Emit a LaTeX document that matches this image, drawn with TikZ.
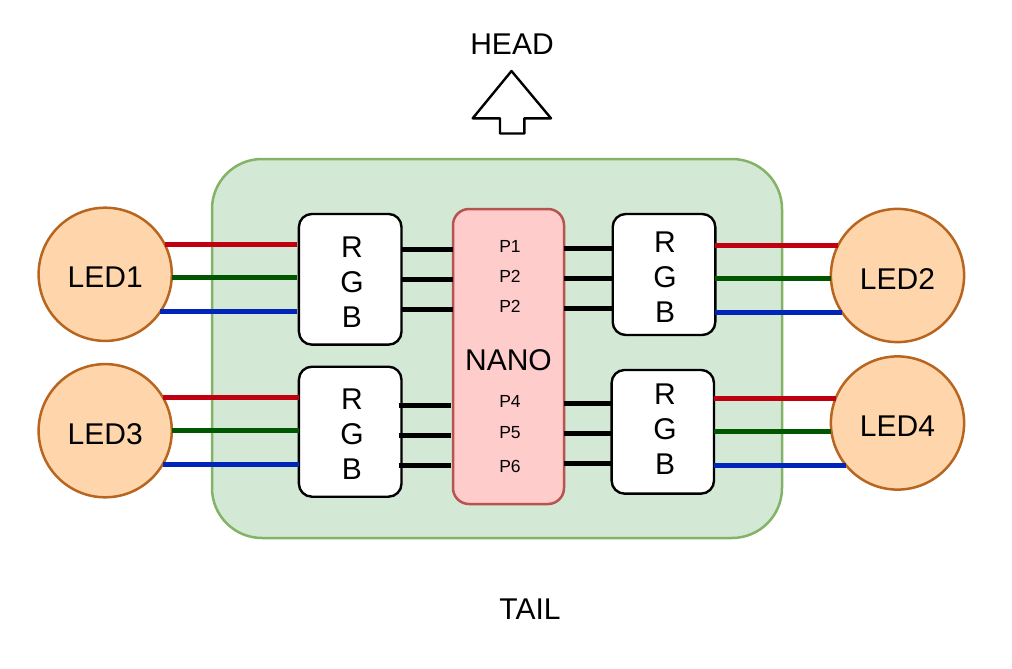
\documentclass[tikz,border=0pt]{standalone}
\usepackage{fontspec}
\setmainfont{Liberation Sans}
\definecolor{ledfill}{HTML}{FFD5AC}
\definecolor{ledline}{HTML}{B7651F}
\definecolor{boardfill}{HTML}{D3E8D5}
\definecolor{boardline}{HTML}{82B366}
\definecolor{nanofill}{HTML}{FFCCCC}
\definecolor{nanoline}{HTML}{B85450}
\definecolor{wirered}{HTML}{C00010}
\definecolor{wiregreen}{HTML}{005700}
\definecolor{wireblue}{HTML}{0025B8}
\tikzset{
  led/.style={draw=ledline, fill=ledfill, circle, line width=2.5pt, minimum size=133.2pt, inner sep=0pt, outer sep=0pt, text height=27pt, text depth=0pt, font=\fontsize{30}{36}\selectfont},
  rgbbox/.style={draw=black, fill=white, rounded corners=13pt, line width=2.4pt, inner sep=0pt, outer sep=0pt},
  rgbtext/.style={align=center, inner sep=0pt, font=\fontsize{30}{35}\selectfont},
  pintext/.style={inner sep=0pt, font=\fontsize{17.5}{20}\selectfont},
  bigtext/.style={inner sep=0pt, font=\fontsize{30}{36}\selectfont},
  rwire/.style={wirered, line width=5pt},
  gwire/.style={wiregreen, line width=5pt},
  bwire/.style={wireblue, line width=5pt},
  pinwire/.style={black, line width=5pt}
}
\begin{document}
\begin{tikzpicture}[x=1pt, y=-1pt]
  \useasboundingbox (0,0) rectangle (1012,669);
  % board and nano
  \node (board) [draw=boardline, fill=boardfill, line width=2.5pt, rounded corners=50pt, minimum width=570pt, minimum height=379pt, inner sep=0pt, outer sep=0pt] at (497,348.5) {};
  \node (nano) [draw=nanoline, fill=nanofill, line width=2.5pt, rounded corners=16pt, minimum width=111pt, minimum height=295pt, inner sep=0pt, outer sep=0pt] at (508.5,356.5) {};
  \node (nanotext) [bigtext] at (508.5,360) {NANO};
  \node (p1) [pintext] at (510,246) {P1};
  \node (p2) [pintext] at (510,276) {P2};
  \node (p3) [pintext] at (510,306) {P2};
  \node (p4) [pintext] at (510,401) {P4};
  \node (p5) [pintext] at (510,433) {P5};
  \node (p6) [pintext] at (510,466) {P6};
  % rgb boxes
  \node (rgb1) [rgbbox, minimum width=102.6pt, minimum height=130.7pt] at (350.2,279.3) {};
  \node (rgb2) [rgbbox, minimum width=102.6pt, minimum height=121pt] at (664,274.5) {};
  \node (rgb3) [rgbbox, minimum width=102.6pt, minimum height=130pt] at (350.2,431.7) {};
  \node (rgb4) [rgbbox, minimum width=102.4pt, minimum height=123.7pt] at (662.8,431.8) {};
  \node (txt1) [rgbtext] at (352,282) {R\\G\\B};
  \node (txt2) [rgbtext] at (665,277) {R\\G\\B};
  \node (txt3) [rgbtext] at (352,434) {R\\G\\B};
  \node (txt4) [rgbtext] at (665,429) {R\\G\\B};
  % leds
  \node (led1) [led] at (105.2,274.3) {LED1};
  \node (led2) [led] at (897.5,275.5) {LED2};
  \node (led3) [led] at (105.2,430.7) {LED3};
  \node (led4) [led] at (897.5,423) {LED4};
  % colour wires
  \draw[rwire] (led1.27.4) -- ([xshift=-2pt]rgb1.west |- led1.27.4);
  \draw[gwire] (led1.-3.2) -- ([xshift=-2pt]rgb1.west |- led1.-3.2);
  \draw[bwire] (led1.-34.6) -- ([xshift=-2pt]rgb1.west |- led1.-34.6);
  \draw[rwire] (led3.30.3) -- (rgb3.west |- led3.30.3);
  \draw[gwire] (led3.0) -- (rgb3.west |- led3.0);
  \draw[bwire] (led3.-30.3) -- (rgb3.west |- led3.-30.3);
  \draw[rwire] (rgb2.east |- led2.153.5) -- (led2.153.5);
  \draw[gwire] (rgb2.east |- led2.183.3) -- (led2.183.3);
  \draw[bwire] (rgb2.east |- led2.214.6) -- (led2.214.6);
  \draw[rwire] (rgb4.east |- led4.158.3) -- (led4.158.3);
  \draw[gwire] (rgb4.east |- led4.187.5) -- (led4.187.5);
  \draw[bwire] (rgb4.east |- led4.220.6) -- (led4.220.6);
  % pin wires
  \draw[pinwire] (rgb1.east |- 0,249.3) -- (nano.west |- 0,249.3);
  \draw[pinwire] (rgb1.east |- 0,279.3) -- (nano.west |- 0,279.3);
  \draw[pinwire] (rgb1.east |- 0,309.3) -- (nano.west |- 0,309.3);
  \draw[pinwire] ([xshift=-3pt]rgb3.east |- 0,405.7) -- ([xshift=-2pt]nano.west |- 0,405.7);
  \draw[pinwire] ([xshift=-3pt]rgb3.east |- 0,435.7) -- ([xshift=-2pt]nano.west |- 0,435.7);
  \draw[pinwire] ([xshift=-3pt]rgb3.east |- 0,465.7) -- ([xshift=-2pt]nano.west |- 0,465.7);
  \draw[pinwire] (nano.east |- 0,248) -- (rgb2.west |- 0,248);
  \draw[pinwire] (nano.east |- 0,278) -- (rgb2.west |- 0,278);
  \draw[pinwire] (nano.east |- 0,308) -- (rgb2.west |- 0,308);
  \draw[pinwire] (nano.east |- 0,403) -- (rgb4.west |- 0,403);
  \draw[pinwire] (nano.east |- 0,433) -- (rgb4.west |- 0,433);
  \draw[pinwire] (nano.east |- 0,463) -- (rgb4.west |- 0,463);
  % head and tail
  \node (head) [bigtext] at (512,44.5) {HEAD};
  \node (tail) [bigtext] at (530,609.5) {TAIL};
  \draw[black, line width=2.4pt, line join=round, fill=white] (511.5,71) -- (551,118.3) -- (524.3,118.3) -- (524.3,133.5) -- (500,133.5) -- (500,118.3) -- (472.7,118.3) -- cycle;
\end{tikzpicture}
\end{document}
